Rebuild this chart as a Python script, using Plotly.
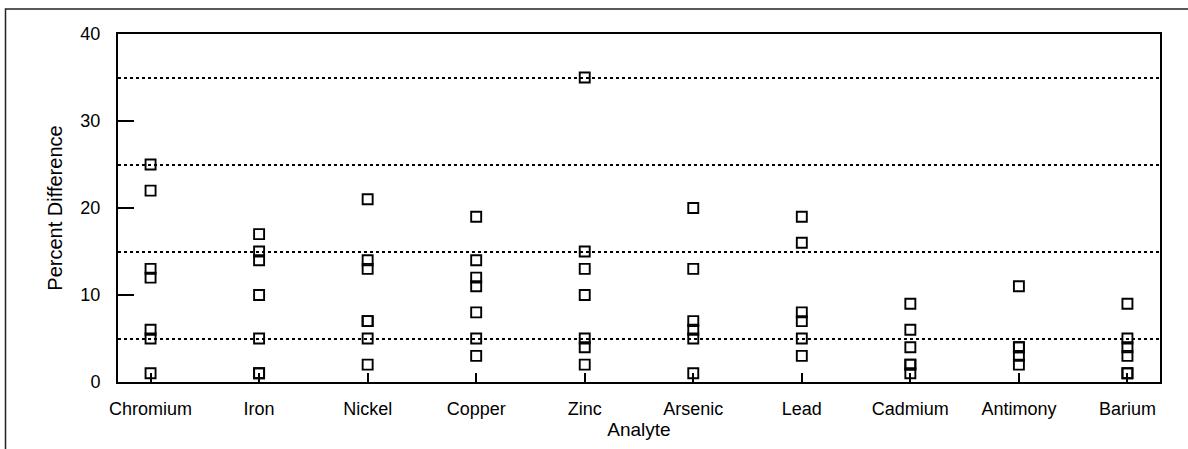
import plotly.graph_objects as go

categories = ["Chromium", "Iron", "Nickel", "Copper", "Zinc",
              "Arsenic", "Lead", "Cadmium", "Antimony", "Barium"]

chromium = [25, 22, 13, 12, 6, 5, 1]
iron = [17, 15, 14, 10, 5, 1, 1]
nickel = [21, 14, 13, 7, 7, 5, 2]
copper = [19, 14, 12, 11, 8, 5, 3]
zinc = [35, 15, 13, 10, 5, 4, 2]
arsenic = [20, 13, 7, 6, 5, 1]
lead = [19, 16, 8, 7, 5, 3]
cadmium = [9, 6, 4, 2, 2, 1]
antimony = [11, 4, 4, 3, 2]
barium = [9, 5, 4, 3, 1, 1]

y_ticks = [0, 10, 20, 30, 40]
y_grid = [5, 15, 25, 35]

series = [chromium, iron, nickel, copper, zinc, arsenic, lead, cadmium, antimony, barium]
xs, ys = [], []
for cat, vals in zip(categories, series):
    xs.extend([cat] * len(vals))
    ys.extend(vals)

W, H = 1188, 449
ML, MR, MT, MB = 118, 28, 34, 67
PW, PH = W - ML - MR, H - MT - MB

fig = go.Figure()
fig.add_trace(go.Scatter(
    x=xs, y=ys, mode="markers",
    marker=dict(symbol="square-open", size=10, color="black",
                line=dict(color="black", width=1.9)),
    cliponaxis=False, showlegend=False,
))

font_family = "Liberation Sans, Arial, sans-serif"

fig.update_layout(
    width=W, height=H,
    margin=dict(l=ML, r=MR, t=MT, b=MB, pad=0),
    paper_bgcolor="white", plot_bgcolor="white",
    font=dict(family=font_family, color="black", size=18),
    xaxis=dict(
        type="category", categoryorder="array", categoryarray=categories,
        range=[-0.3, len(categories) - 0.7],
        showline=True, linecolor="black", linewidth=2, mirror=True,
        ticks="inside", ticklen=9, tickwidth=1.5, tickcolor="black",
        showgrid=False, zeroline=False,
        tickfont=dict(size=18), ticklabelstandoff=9,
        title=dict(text="Analyte", font=dict(size=19), standoff=1),
    ),
    yaxis=dict(
        range=[0, 40], tickvals=y_ticks,
        showline=True, linecolor="black", linewidth=2, mirror=True,
        ticks="inside", ticklen=16, tickwidth=1.5, tickcolor="black",
        showgrid=False, zeroline=False,
        tickfont=dict(size=18), ticklabelstandoff=12,
        minor=dict(tickvals=y_grid, showgrid=True, griddash="dot",
                   gridcolor="black", gridwidth=1.5, ticks=""),
        title=dict(text="Percent Difference", font=dict(size=20), standoff=12),
    ),
    shapes=[dict(
        type="rect", xref="paper", yref="paper",
        x0=(5.5 - ML) / PW, x1=(W + 20 - ML) / PW,
        y0=-(MB + 20) / PH, y1=(H - MB - 9) / PH,
        line=dict(color="#222222", width=1.5), layer="above",
    )],
)

fig.write_html("out.html",
               config={"displayModeBar": False},
               post_script="document.body.style.margin='0';document.body.style.overflow='hidden';")
